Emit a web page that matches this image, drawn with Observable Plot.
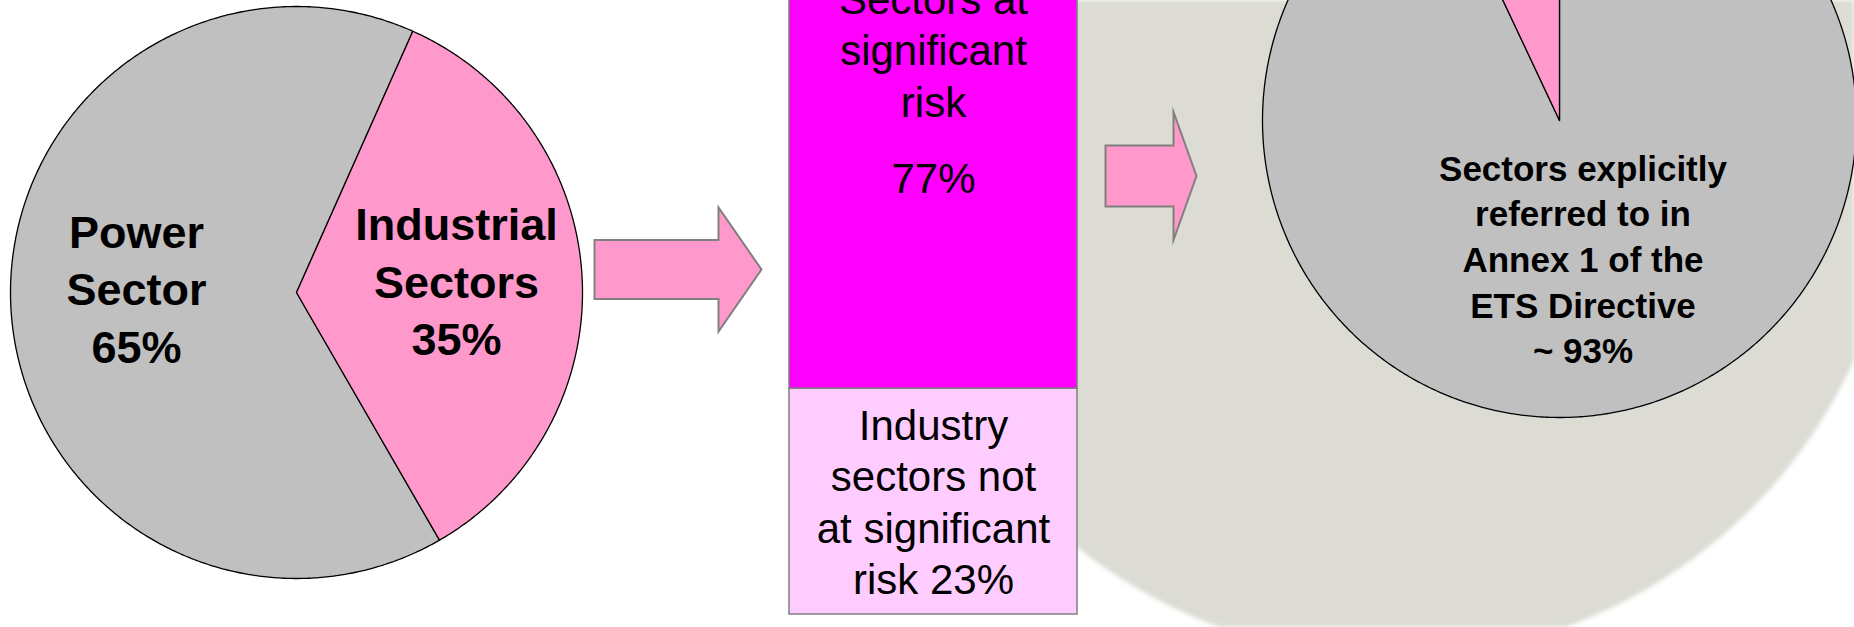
<!DOCTYPE html>
<html>
<head>
<meta charset="utf-8">
<script src="https://cdn.jsdelivr.net/npm/d3@7"></script>
<script src="https://cdn.jsdelivr.net/npm/@observablehq/plot@0.6"></script>
<style>
  html, body { margin: 0; padding: 0; background: #fff; }
  #chart { position: relative; width: 1854px; height: 627px; overflow: hidden; background: #fff; }
  #chart svg { position: absolute; left: 0; top: 0; }
</style>
</head>
<body>
<div id="chart"></div>
<script>
// ---------------- Data ----------------
const emissionCategories = ["Power Sector", "Industrial Sectors"];
const emissionShares = [65, 35];
const emissionLabels = ["Power\nSector\n65%", "Industrial\nSectors\n35%"];

const riskCategories = ["Industry sectors not at significant risk", "Sectors at significant risk"];
const riskShares = [23, 77];
const riskLabels = ["Industry\nsectors not\nat significant\nrisk 23%", "Sectors at\nsignificant\nrisk"];
const riskValueLabels = ["", "77%"];

const annexCategories = ["Sectors explicitly referred to in Annex 1 of the ETS Directive", "Other sectors"];
const annexShares = [93, 7];
const annexLabels = ["Sectors explicitly\nreferred to in\nAnnex 1 of the\nETS Directive\n~ 93%", ""];

// ---------------- Styles & layout ----------------
const GREY = "#c0c0c0", PINK = "#ff99cc", MAGENTA = "#ff00ff", LIGHT = "#ffccff", BACK = "#dcdcd5", EDGE = "#808080";
const emissionColors = [GREY, PINK];
const riskColors = [LIGHT, MAGENTA];
const annexColors = [GREY, PINK];
const FONT = "Liberation Sans, Arial, Helvetica, sans-serif";
const W = 1854, H = 627;

const layout = {
  pie1: {cx: 296, cy: 292, r: 286, start: 150, labelR: 0.56, fontSize: 45, lineHeight: 1.278, dx: [0, 0], dy: [-14, -5]},
  bar: {x1: 789, x2: 1077, base: 614, pxPerPct: 9.82, fontSize: 42, lineHeight: 1.226},
  pie2: {cx: 1559, cy: 120, r: 297, start: 0, labelR: 0.486, fontSize: 35, lineHeight: 1.306, dx: [-8, 0], dy: [-4, 0]},
  back: {cx: 1392, cy: 150, r: 507},
  arrows: [
    {x0: 594, x1: 718, tip: 761, yc: 269, body: 59, head: 124},
    {x0: 1105, x1: 1173, tip: 1196, yc: 175.5, body: 61, head: 128}
  ]
};

const chart = document.getElementById("chart");
const base = {width: W, height: H, margin: 0, style: {background: "transparent"}};

// ---------------- Background circle ----------------
chart.append(Plot.plot({
  ...base,
  style: {background: "transparent", filter: "blur(2px)"},
  x: {domain: [0, W], range: [0, W], axis: null},
  y: {domain: [0, H], range: [0, H], axis: null},
  marks: [
    Plot.dot([layout.back], {x: "cx", y: "cy", r: layout.back.r, fill: BACK, stroke: "none"})
  ]
}));

// ---------------- Stacked bar ----------------
const riskData = riskCategories.map((c, i) => ({category: c, value: riskShares[i], color: riskColors[i], label: riskLabels[i], valueLabel: riskValueLabels[i]}));
const B = layout.bar;
const xMid = (B.x1 + B.x2) / 2;
const barText = {x: xMid, y: "value", fontSize: B.fontSize, fontFamily: FONT, lineHeight: B.lineHeight, fill: "black"};
chart.append(Plot.plot({
  ...base,
  x: {domain: [0, W], range: [0, W], axis: null},
  y: {domain: [0, 100], range: [B.base, B.base - 100 * B.pxPerPct], axis: null},
  color: {type: "identity"},
  marks: [
    Plot.rectY(riskData, {x1: B.x1, x2: B.x2, y: "value", fill: "color", stroke: EDGE, strokeWidth: 1.5}),
    Plot.text(riskData, Plot.stackY({...barText, text: (d, i) => i === 0 ? d.label : "", dy: -1})),
    Plot.text(riskData, Plot.stackY({...barText, text: (d, i) => i === 1 ? d.label : "", dy: 38})),
    Plot.text(riskData, Plot.stackY({...barText, text: "valueLabel", dy: 166}))
  ]
}));

// ---------------- Arrows ----------------
const arrowPts = [];
layout.arrows.forEach((a, k) => {
  const b = a.body / 2, h = a.head / 2;
  [[a.x0, a.yc - b], [a.x1, a.yc - b], [a.x1, a.yc - h], [a.tip, a.yc], [a.x1, a.yc + h], [a.x1, a.yc + b], [a.x0, a.yc + b]]
    .forEach(([x, y]) => arrowPts.push({arrow: k, x, y}));
});
chart.append(Plot.plot({
  ...base,
  x: {domain: [0, W], range: [0, W], axis: null},
  y: {domain: [0, H], range: [0, H], axis: null},
  marks: [
    Plot.line(arrowPts, {x: "x", y: "y", z: "arrow", fill: PINK, stroke: EDGE, strokeWidth: 2, curve: "linear-closed", strokeLinejoin: "miter", strokeMiterlimit: 10})
  ]
}));

// ---------------- Pies ----------------
function pieLayer(cats, vals, colors, labels, L) {
  const a0 = L.start * Math.PI / 180;
  const arcs = d3.pie().sort(null).startAngle(a0).endAngle(a0 + 2 * Math.PI)(vals);
  const pts = [];
  arcs.forEach((a, i) => {
    pts.push({slice: cats[i], color: colors[i], u: 0, v: 0});
    const n = Math.max(2, Math.ceil((a.endAngle - a.startAngle) / (Math.PI / 360)));
    for (let k = 0; k <= n; k++) {
      const t = a.startAngle + (a.endAngle - a.startAngle) * k / n;
      pts.push({slice: cats[i], color: colors[i], u: Math.sin(t), v: Math.cos(t)});
    }
  });
  const lab = arcs.map((a, i) => {
    const m = (a.startAngle + a.endAngle) / 2;
    return {text: labels[i], u: L.labelR * Math.sin(m), v: L.labelR * Math.cos(m), i};
  }).filter(d => d.text);
  return Plot.plot({
    ...base,
    x: {domain: [-1, 1], range: [L.cx - L.r, L.cx + L.r], axis: null},
    y: {domain: [-1, 1], range: [L.cy + L.r, L.cy - L.r], axis: null},
    color: {type: "identity"},
    marks: [
      Plot.line(pts, {x: "u", y: "v", z: "slice", fill: "color", stroke: "black", strokeWidth: 1.3, curve: "linear-closed"}),
      ...lab.map(d => Plot.text([d], {x: "u", y: "v", text: "text", fontSize: L.fontSize, fontWeight: "bold", fontFamily: FONT, lineHeight: L.lineHeight, fill: "black", dx: L.dx[d.i], dy: L.dy[d.i]}))
    ]
  });
}
chart.append(pieLayer(emissionCategories, emissionShares, emissionColors, emissionLabels, layout.pie1));
chart.append(pieLayer(annexCategories, annexShares, annexColors, annexLabels, layout.pie2));
</script>
</body>
</html>
